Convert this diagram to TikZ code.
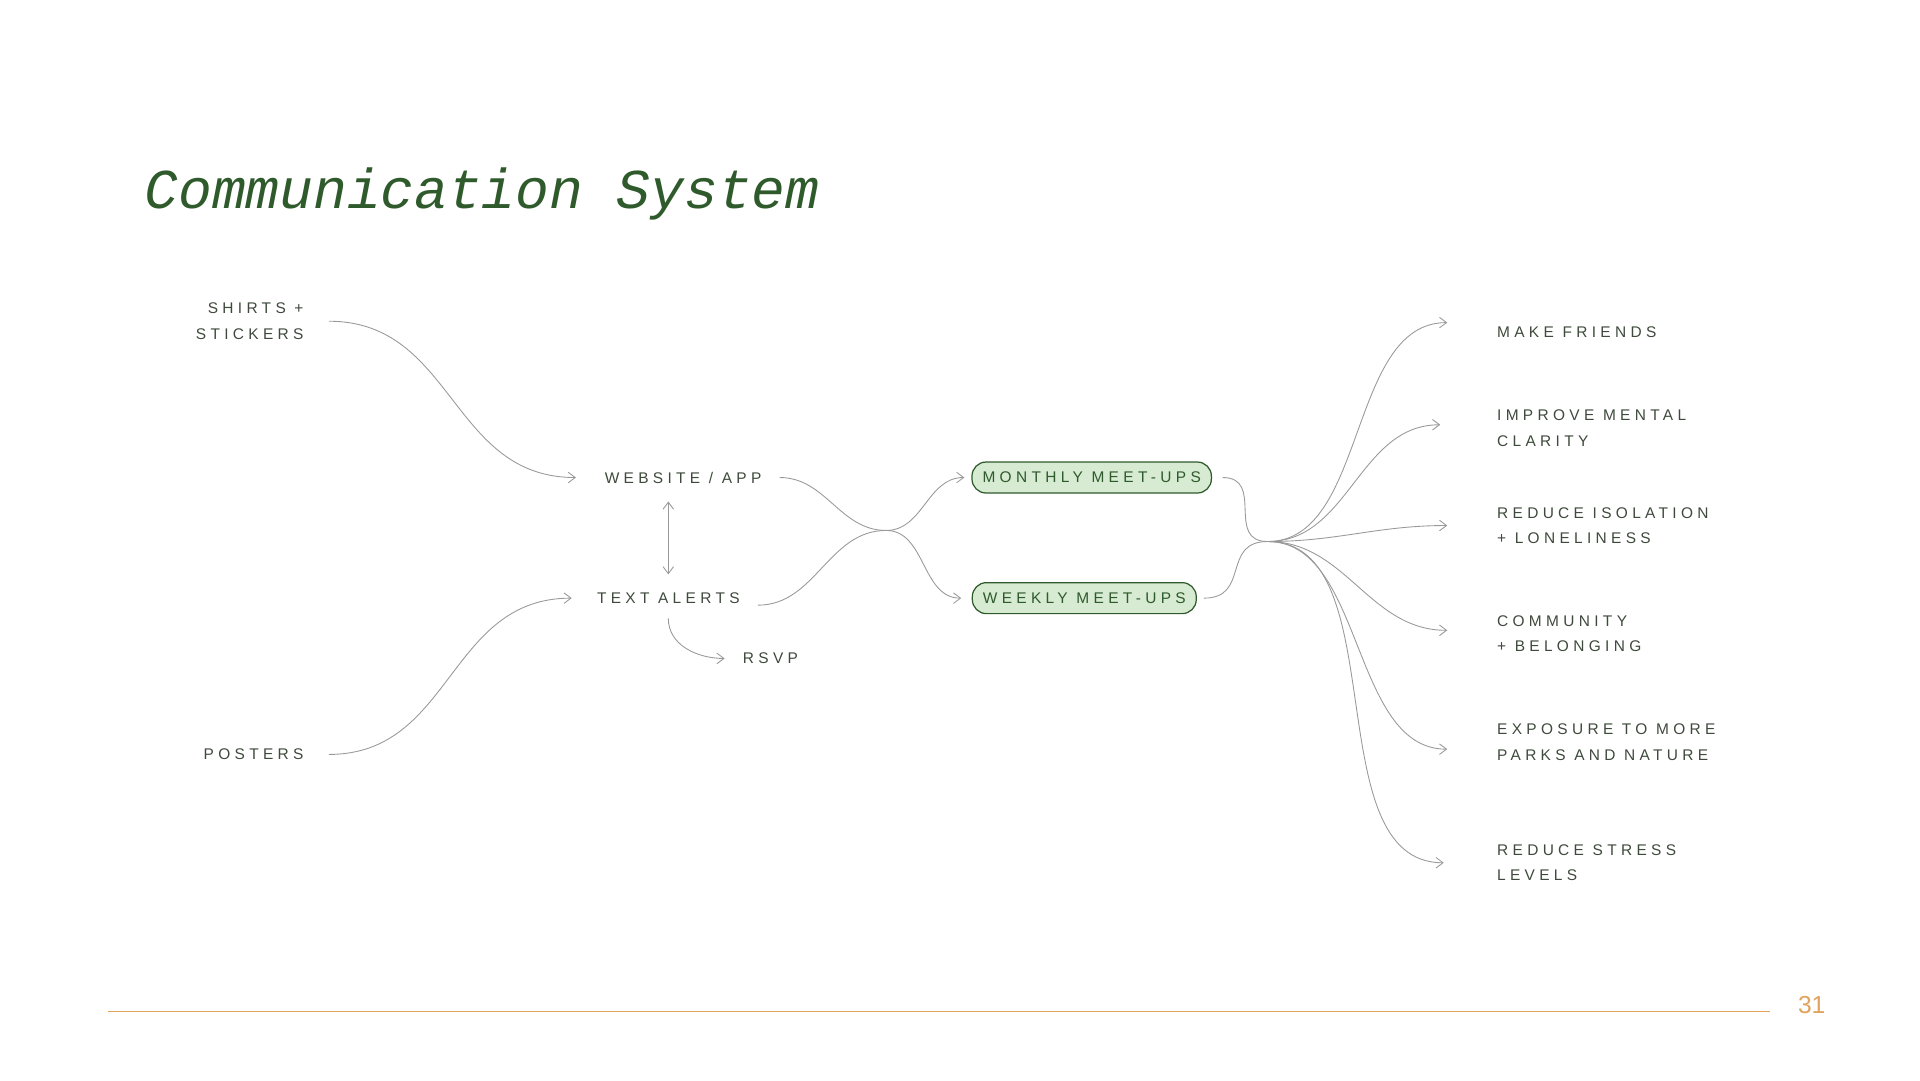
\documentclass[tikz,border=0pt]{standalone}
\usepackage{fontspec}
\setmainfont{Liberation Sans}
\newfontfamily\titlefont{Liberation Mono}
\newfontfamily\spacedfont[LetterSpace=28]{Liberation Sans}
\usetikzlibrary{arrows.meta,positioning}
\definecolor{leaf}{HTML}{2F5A2C}
\definecolor{ink}{HTML}{3E4A3C}
\definecolor{mint}{HTML}{D6EBD2}
\definecolor{amber}{HTML}{E0A25C}
\begin{document}
\begin{tikzpicture}[
    x=0.012308cm, y=-0.012308cm,
    label/.style={font=\spacedfont\fontsize{4.4}{7.2}\selectfont, text=ink, inner sep=1pt},
    meetup/.style={label, text=leaf, draw=leaf, fill=mint, rounded corners=4pt, line width=0.35pt, minimum height=0.31cm, inner xsep=3pt},
    link/.style={draw=gray!80, line width=0.25pt, -{Straight Barb[length=2pt,width=3pt]}},
    plain/.style={draw=gray!80, line width=0.25pt}
]
    \useasboundingbox (0,0) rectangle (1560,878);

    % Title
    \node[anchor=west, text=leaf, font=\titlefont\itshape\fontsize{16}{18}\selectfont, inner sep=0pt] (title) at (117,158) {Communication System};

    % Inputs
    \node[label, anchor=east, align=right] (shirts) at (250,261) {SHIRTS +\\STICKERS};
    \node[label, anchor=east] (posters) at (250,613) {POSTERS};

    % Channels
    \node[label] (website) at (555,388) {WEBSITE / APP};
    \node[label] (alerts) at (543,486) {TEXT ALERTS};
    \node[label] (rsvp) at (626,535) {RSVP};

    % Meet-ups
    \node[meetup] (monthly) at (887,388) {MONTHLY MEET-UPS};
    \node[meetup] (weekly) at (881,486) {WEEKLY MEET-UPS};
    \coordinate (merge) at (720,431);
    \coordinate (hub) at (1030,440);

    % Outcomes
    \node[label, anchor=west] (friends) at (1213,270) {MAKE FRIENDS};
    \node[label, anchor=west, align=left] (clarity) at (1213,348) {IMPROVE MENTAL\\CLARITY};
    \node[label, anchor=west, align=left] (isolation) at (1213,427) {REDUCE ISOLATION\\+ LONELINESS};
    \node[label, anchor=west, align=left] (belonging) at (1213,515) {COMMUNITY\\+ BELONGING};
    \node[label, anchor=west, align=left] (nature) at (1213,603) {EXPOSURE TO MORE\\PARKS AND NATURE};
    \node[label, anchor=west, align=left] (stress) at (1213,701) {REDUCE STRESS\\LEVELS};

    % Arrows into channels
    \draw[link] ([xshift=6pt]shirts.east) to[out=0,in=180,looseness=1.1] ([xshift=-7pt]website.west);
    \draw[link] ([xshift=6pt]posters.east) to[out=0,in=180,looseness=1.1] ([xshift=-6pt]alerts.west);
    \draw[plain, {Straight Barb[length=2pt,width=3pt]}-{Straight Barb[length=2pt,width=3pt]}] ([yshift=-4pt]website.south -| alerts) -- ([yshift=4pt]alerts.north);
    \draw[link] ([yshift=-3pt]alerts.south) to[out=-90,in=180] ([xshift=-4pt]rsvp.west);

    % Channels to meet-ups
    \draw[plain] ([xshift=4pt]website.east) to[out=0,in=180] (merge);
    \draw[plain] ([xshift=4pt,yshift=-2pt]alerts.east) to[out=0,in=180] (merge);
    \draw[link] (merge) to[out=0,in=180] ([xshift=-2pt]monthly.west);
    \draw[link] (merge) to[out=0,in=180] ([xshift=-3pt]weekly.west);

    % Meet-ups to hub
    \draw[plain] ([xshift=3pt]monthly.east) to[out=0,in=180,looseness=1.4] (hub);
    \draw[plain] ([xshift=2pt]weekly.east) to[out=0,in=180,looseness=1.4] (hub);

    % Hub to outcomes
    \draw[link] (hub) to[out=0,in=180,looseness=0.9] ([xshift=-13pt]friends.north west);
    \draw[link] (hub) to[out=0,in=180] ([xshift=-15pt,yshift=1pt]clarity.west);
    \draw[link] (hub) to[out=0,in=180] ([xshift=-13pt]isolation.west);
    \draw[link] (hub) to[out=0,in=180] ([xshift=-13pt,yshift=1pt]belonging.west);
    \draw[link] (hub) to[out=0,in=180,looseness=0.9] ([xshift=-13pt,yshift=-2pt]nature.west);
    \draw[link] (hub) to[out=0,in=180,looseness=0.9] ([xshift=-14pt]stress.west);

    % Footer
    \draw[amber, line width=0.3pt] (88,822) -- (1438,822);
    \node[text=amber, font=\fontsize{7}{8}\selectfont] (page) at (1472,817) {31};
\end{tikzpicture}
\end{document}
